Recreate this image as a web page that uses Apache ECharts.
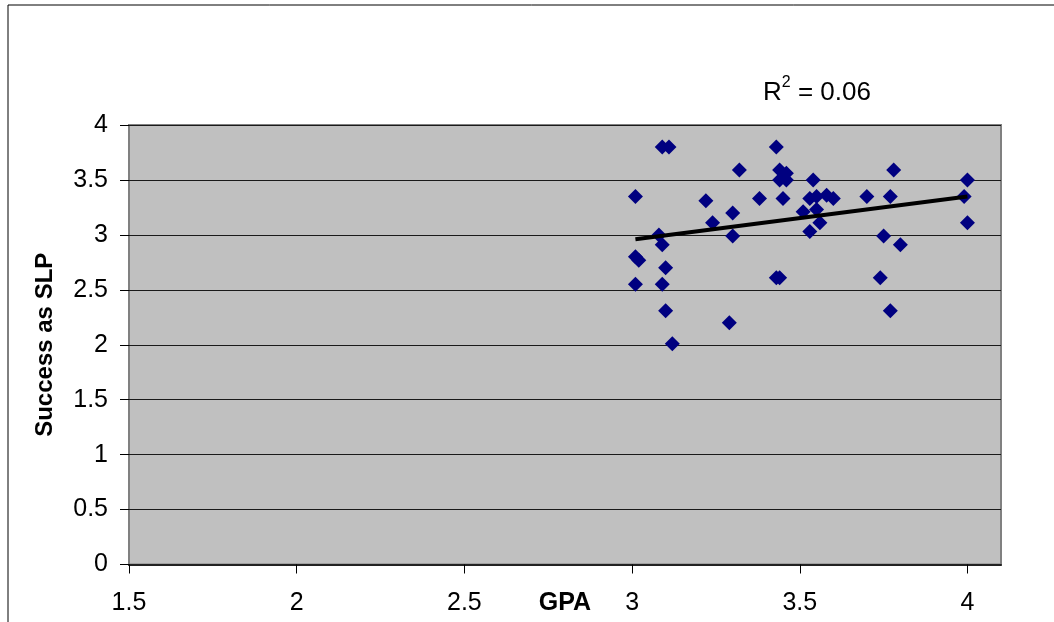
<!DOCTYPE html>
<html>
<head>
<meta charset="utf-8">
<script src="https://cdn.jsdelivr.net/npm/echarts@6/dist/echarts.min.js"></script>
<style>
html,body{margin:0;padding:0;background:#fff;}
#chart{width:1054px;height:622px;}
</style>
</head>
<body>
<div id="chart"></div>
<script>
// GPA values (x) and Success as SLP values (y)
const gpa = [3.01,3.01,3.02,3.01,3.08,3.09,3.09,3.11,3.10,3.09,3.10,3.12,
  3.22,3.24,3.30,3.30,3.29,3.32,3.38,3.43,3.44,3.46,3.44,3.46,3.43,3.44,3.45,
  3.51,3.55,3.54,3.53,3.55,3.58,3.60,3.53,3.56,3.70,3.77,3.78,3.74,3.75,3.80,3.77,
  3.99,4.00,4.00];
const success = [3.35,2.80,2.77,2.55,3.00,2.91,3.80,3.80,2.70,2.55,2.31,2.01,
  3.31,3.11,3.20,2.99,2.20,3.59,3.33,3.80,3.59,3.56,3.50,3.50,2.61,2.61,3.33,
  3.21,3.23,3.50,3.33,3.35,3.36,3.33,3.03,3.11,3.35,3.35,3.59,2.61,2.99,2.91,2.31,
  3.35,3.50,3.11];
// Linear trend line end points
const trendX = [3.01, 4.00];
const trendY = [2.96, 3.35];
const rSquared = '0.06';
const xTicks = [1.5, 2, 2.5, 3, 3.5, 4];

const font = 'Liberation Sans, Arial, sans-serif';
const chart = echarts.init(document.getElementById('chart'));
chart.setOption({
  animation: false,
  backgroundColor: '#fff',
  grid: {
    left: 129, top: 125, right: 53, bottom: 57.5,
    outerBoundsMode: 'none', containLabel: false,
    show: true, backgroundColor: '#C0C0C0', borderColor: '#808080', borderWidth: 2
  },
  graphic: [
    { type: 'rect', shape: { x: 8, y: 5, width: 3000, height: 3000 },
      style: { fill: 'none', stroke: '#000', lineWidth: 1 }, z: -10, silent: true },
    { type: 'text', left: 763, top: 75,
      style: {
        text: '{r|R}{s|2}{r| = ' + rSquared + '}',
        rich: {
          r: { fontFamily: font, fontSize: 26, color: '#000', verticalAlign: 'bottom', lineHeight: 31 },
          s: { fontFamily: font, fontSize: 16, color: '#000', verticalAlign: 'top', lineHeight: 31 }
        }
      } }
  ],
  xAxis: {
    type: 'value', min: 1.5, max: 4.1, interval: 0.5,
    name: 'GPA', nameLocation: 'middle', nameGap: 26, nameMoveOverlap: false,
    nameTextStyle: { fontFamily: font, fontWeight: 'bold', fontSize: 25, color: '#000', verticalAlign: 'top' },
    axisLine: { show: true, onZero: false, lineStyle: { color: '#222', width: 2 } },
    axisTick: { show: true, inside: false, length: 9, customValues: xTicks, lineStyle: { color: '#000', width: 1 } },
    axisLabel: { customValues: xTicks, margin: 26, fontFamily: font, fontSize: 25, color: '#000',
      formatter: v => String(v) },
    splitLine: { show: false }
  },
  yAxis: {
    type: 'value', min: 0, max: 4, interval: 0.5,
    name: 'Success as SLP', nameLocation: 'middle', nameGap: 72, nameMoveOverlap: false,
    nameTextStyle: { fontFamily: font, fontWeight: 'bold', fontSize: 24, color: '#000' },
    axisLine: { show: false },
    axisTick: { show: true, inside: false, length: 9, lineStyle: { color: '#000', width: 1 } },
    axisLabel: { margin: 21, fontFamily: font, fontSize: 25, color: '#000', formatter: v => String(v) },
    splitLine: { show: true, lineStyle: { color: '#1a1a1a', width: 1 } }
  },
  series: [
    {
      type: 'scatter', symbol: 'diamond', symbolSize: 15,
      itemStyle: { color: '#000080', opacity: 1 },
      data: gpa.map((x, i) => [x, success[i]]), z: 3
    },
    {
      type: 'line', symbol: 'none', silent: true,
      lineStyle: { color: '#000', width: 4 },
      data: trendX.map((x, i) => [x, trendY[i]]), z: 4
    }
  ]
});
</script>
</body>
</html>
